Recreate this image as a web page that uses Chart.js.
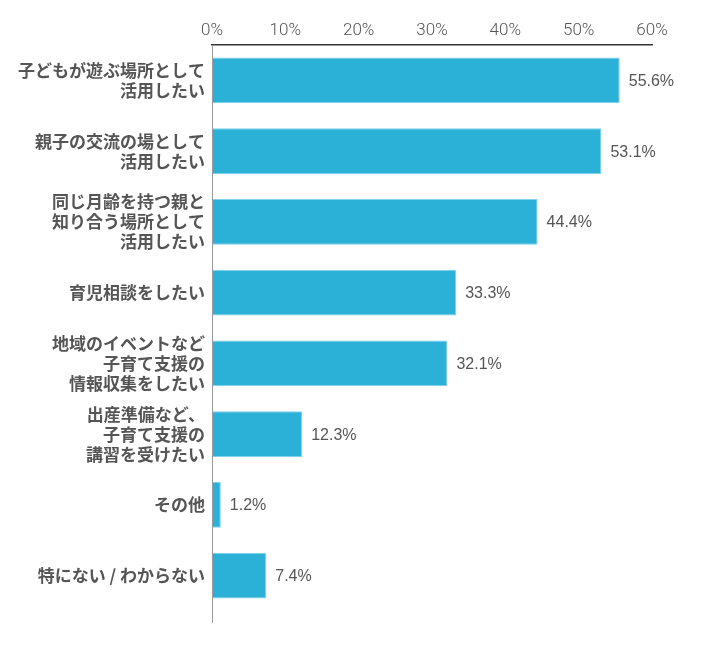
<!DOCTYPE html>
<html>
<head>
<meta charset="utf-8">
<script src="https://cdn.jsdelivr.net/npm/chart.js@4"></script>
<style>
  html, body { margin: 0; padding: 0; background: #fff; }
  #wrap { width: 710px; height: 650px; }
</style>
</head>
<body>
<div id="wrap"><canvas id="myChart" width="710" height="650"></canvas></div>
<script>
// Answer labels (multi-line as in the picture)
const categories = [
    ['子どもが遊ぶ場所として', '活用したい'],
    ['親子の交流の場として', '活用したい'],
    ['同じ月齢を持つ親と', '知り合う場所として', '活用したい'],
    '育児相談をしたい',
    ['地域のイベントなど', '子育て支援の', '情報収集をしたい'],
    ['出産準備など、', '子育て支援の', '講習を受けたい'],
    'その他',
    '特にない / わからない'
];
const percents = [55.6, 53.1, 44.4, 33.3, 32.1, 12.3, 1.2, 7.4];
const tickValues = [0, 10, 20, 30, 40, 50, 60];

const BAR_COLOR = '#2bb0d8';
const TEXT_COLOR = '#555555';

// Draws "55.6%" etc. right of each bar
const valueLabels = {
    id: 'valueLabels',
    afterDatasetsDraw(chart) {
        const ctx = chart.ctx;
        const meta = chart.getDatasetMeta(0);
        ctx.save();
        ctx.font = '16px "Liberation Sans", Arial, sans-serif';
        ctx.fillStyle = TEXT_COLOR;
        ctx.textAlign = 'left';
        ctx.textBaseline = 'middle';
        meta.data.forEach((bar, i) => {
            ctx.fillText(percents[i].toFixed(1) + '%', bar.x + 9, bar.y + 1);
        });
        ctx.restore();
    }
};

// The left axis line runs a little past the last category
const leftLine = {
    id: 'leftLine',
    afterDraw(chart) {
        const ctx = chart.ctx;
        const a = chart.chartArea;
        ctx.save();
        ctx.strokeStyle = '#9a9a9a';
        ctx.lineWidth = 1;
        ctx.beginPath();
        ctx.moveTo(a.left + 0.5, a.top);
        ctx.lineTo(a.left + 0.5, a.bottom + 12);
        ctx.stroke();
        ctx.restore();
    }
};

const ctx = document.getElementById('myChart');
let myChart = new Chart(ctx, {
    type: 'bar',
    data: {
        labels: categories,
        datasets: [{
            data: percents,
            backgroundColor: BAR_COLOR,
            borderColor: '#7fd0ea',
            borderWidth: 1,
            barPercentage: 0.65,
            categoryPercentage: 1
        }]
    },
    options: {
        indexAxis: 'y',
        responsive: false,
        animation: false,
        layout: {
            padding: { left: 0, right: 58, top: 0, bottom: 39 }
        },
        plugins: {
            legend: { display: false },
            tooltip: { enabled: false }
        },
        scales: {
            x: {
                position: 'top',
                min: 0,
                max: 60,
                afterFit(scale) { scale.height = 45; },
                afterBuildTicks(scale) {
                    scale.ticks = tickValues.map(v => ({ value: v }));
                },
                grid: { display: false, drawTicks: false },
                border: { display: true, color: '#333333', width: 1.5 },
                ticks: {
                    padding: 4,
                    color: TEXT_COLOR,
                    font: { family: 'Roboto, "Liberation Sans Narrow", sans-serif', size: 17, weight: '300' },
                    callback: v => v + '%'
                }
            },
            y: {
                afterFit(scale) { scale.width = 212; },
                grid: { display: false, drawTicks: false },
                border: { display: false },
                ticks: {
                    padding: 7,
                    color: TEXT_COLOR,
                    font: { family: '"Noto Sans CJK JP", sans-serif', size: 17, weight: 'bold', lineHeight: 1.18 }
                }
            }
        }
    },
    plugins: [valueLabels, leftLine]
});
</script>
</body>
</html>
